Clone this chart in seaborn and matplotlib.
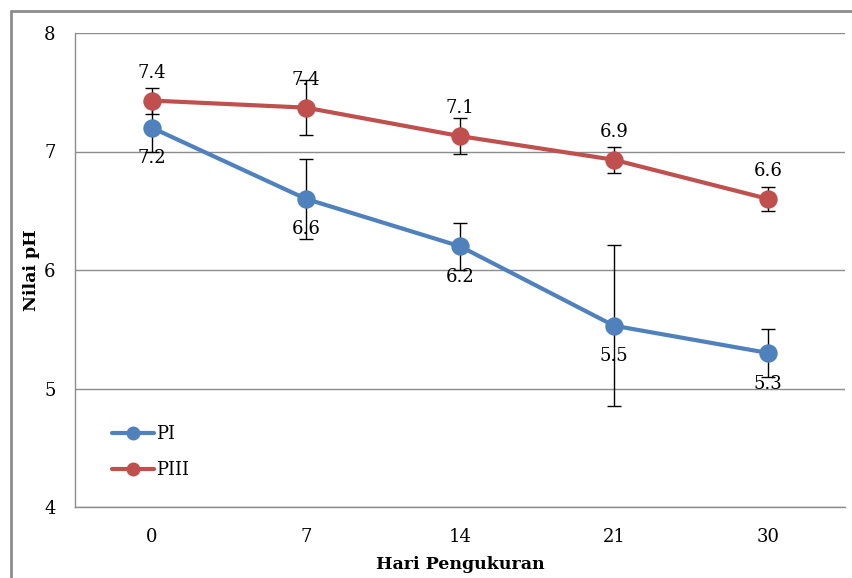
import matplotlib
matplotlib.use("Agg")
import matplotlib.pyplot as plt
import seaborn as sns
import pandas as pd
from matplotlib.lines import Line2D

days = ["0", "7", "14", "21", "30"]
pi_vals = [7.20, 6.60, 6.20, 5.53, 5.30]
piii_vals = [7.43, 7.37, 7.13, 6.93, 6.60]
pi_err = [0.20, 0.34, 0.20, 0.68, 0.20]
piii_err = [0.11, 0.23, 0.15, 0.11, 0.10]
series_names = ["PI", "PIII"]
colors = {"PI": "#4F81BD", "PIII": "#C0504D"}
yticks = [4, 5, 6, 7, 8]

sns.set_theme(style="white")
plt.rcParams["font.family"] = ["DejaVu Serif"]
plt.rcParams["text.color"] = "black"
plt.rcParams["axes.labelcolor"] = "black"

df = pd.DataFrame({
    "Hari": days * 2,
    "pH": pi_vals + piii_vals,
    "Perlakuan": ["PI"] * len(days) + ["PIII"] * len(days),
})

fig = plt.figure(figsize=(8.52, 5.78), dpi=100)
ax = fig.add_axes([75 / 852, 1 - 507 / 578, 770 / 852, 474 / 578])

pos = list(range(len(days)))
ax.errorbar(pos, pi_vals, yerr=pi_err, fmt="none", ecolor="black",
            elinewidth=1.0, capsize=5, capthick=1.0, zorder=2)
ax.errorbar(pos, piii_vals, yerr=piii_err, fmt="none", ecolor="black",
            elinewidth=1.0, capsize=5, capthick=1.0, zorder=2)

sns.pointplot(data=df, x="Hari", y="pH", hue="Perlakuan", order=days,
              hue_order=series_names, palette=colors, markers="o",
              linestyles="-", errorbar=None, dodge=False, ax=ax,
              markersize=11, linewidth=3, legend=False)
for coll in ax.collections:
    coll.set_zorder(3)
for ln in ax.lines:
    if ln.get_marker() == "o":
        ln.set_zorder(3)

for i, v in enumerate(pi_vals):
    ax.annotate(f"{v:.1f}", (i, v), xytext=(0, -22), textcoords="offset points",
                ha="center", va="center", fontsize=13, color="black", zorder=4)
for i, v in enumerate(piii_vals):
    ax.annotate(f"{v:.1f}", (i, v), xytext=(0, 20), textcoords="offset points",
                ha="center", va="center", fontsize=13, color="black", zorder=4)

ax.set_xlim(-0.5, len(days) - 0.5)
ax.set_ylim(4, 8)
ax.set_yticks(yticks)
ax.set_yticklabels([str(t) for t in yticks])
ax.yaxis.grid(True, color="#8C8C8C", linewidth=1.0)
ax.set_axisbelow(True)
ax.tick_params(axis="both", length=0, labelsize=13, colors="black")
ax.tick_params(axis="y", pad=14)
ax.tick_params(axis="x", pad=15)
for s in ["top", "right"]:
    ax.spines[s].set_visible(False)
for s in ["left", "bottom"]:
    ax.spines[s].set_color("#8C8C8C")
    ax.spines[s].set_linewidth(1.0)

ax.set_xlabel("Hari Pengukuran", fontsize=12.5, fontweight="bold", labelpad=7,
              color="black")
ax.set_ylabel("Nilai pH", fontsize=12.5, fontweight="bold", labelpad=3,
              color="black")

handles = [Line2D([0], [0], color=colors[n], lw=3, marker="o", markersize=9)
           for n in series_names]
ax.legend(handles, series_names, loc="lower left", bbox_to_anchor=(0.027, 0.025),
          frameon=False, fontsize=13, handlelength=2.3, handletextpad=0.15,
          labelspacing=1.0)

frame_color = "#8C8C8C"
fig.add_artist(Line2D([11 / 852, 11 / 852], [0, 1 - 11 / 578],
                      transform=fig.transFigure, color=frame_color, lw=2))
fig.add_artist(Line2D([11 / 852, 1], [1 - 11 / 578, 1 - 11 / 578],
                      transform=fig.transFigure, color=frame_color, lw=2))

fig.savefig("out.png", dpi=100)
